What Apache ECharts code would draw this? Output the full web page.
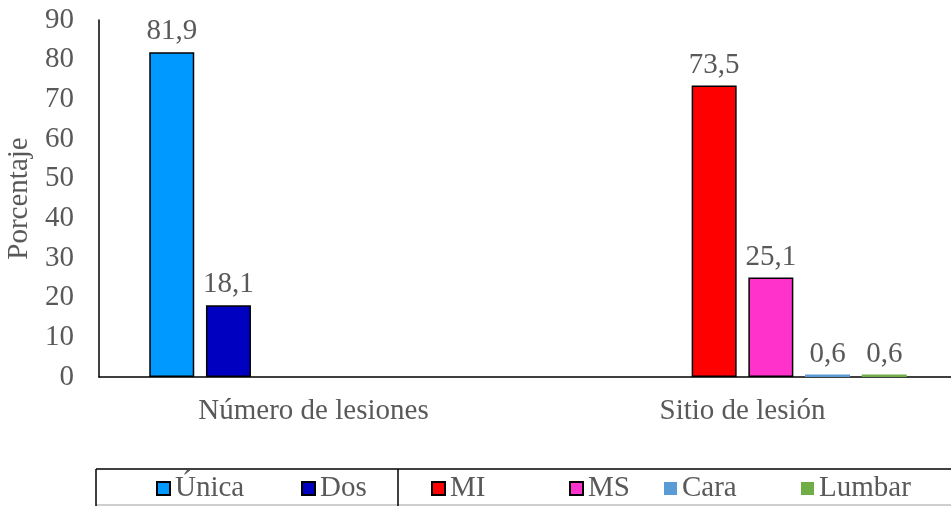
<!DOCTYPE html>
<html>
<head>
<meta charset="utf-8">
<script src="https://cdn.jsdelivr.net/npm/echarts@6/dist/echarts.min.js"></script>
<style>
  html, body { margin: 0; padding: 0; background: #fff; }
  #main { width: 951px; height: 506px; }
</style>
</head>
<body>
<div id="main"></div>
<script>
var categories = ['Número de lesiones', 'Sitio de lesión'];
var seriesNames = ['Única', 'Dos', 'MI', 'MS', 'Cara', 'Lumbar'];
var unica = [81.9, null];
var dos = [18.1, null];
var mi = [null, 73.5];
var ms = [null, 25.1];
var cara = [null, 0.6];
var lumbar = [null, 0.6];
var yTicks = [0, 10, 20, 30, 40, 50, 60, 70, 80, 90];

var colors = ['#0099FF', '#0000C0', '#FF0000', '#FF33CC', '#5B9BD5', '#70AD47'];
var bordered = [true, true, true, true, false, false];
var values = [unica, dos, mi, ms, cara, lumbar];
var legendLeft = [156, 301, 431, 569, 664, 801];

var FONT = 'Liberation Serif';
var TXT = '#595959';
var FS = 29;

var chart = echarts.init(document.getElementById('main'));

var series = seriesNames.map(function (name, i) {
    return {
        name: name,
        type: 'bar',
        data: values[i],
        barWidth: 45,
        barGap: '26%',
        itemStyle: {
            color: colors[i],
            borderColor: bordered[i] ? '#000' : colors[i],
            borderWidth: bordered[i] ? 1.5 : 0
        },
        label: {
            show: true,
            position: 'top',
            distance: 6,
            color: TXT,
            fontFamily: FONT,
            fontSize: FS,
            formatter: function (p) {
                return p.value == null ? '' : String(p.value).replace('.', ',');
            }
        }
    };
});

// one legend per item so each can sit where the reference puts it
var legends = seriesNames.map(function (name, i) {
    return {
        data: [name],
        left: legendLeft[i],
        top: 474,
        icon: 'rect',
        itemWidth: 13,
        itemHeight: 13,
        itemGap: 0,
        padding: 0,
        selectedMode: false,
        textStyle: { color: TXT, fontFamily: FONT, fontSize: FS, lineHeight: 28 }
    };
});

chart.setOption({
    animation: false,
    grid: { left: 99, width: 858, top: 20, bottom: 129, outerBoundsMode: 'none' },
    legend: legends,
    xAxis: {
        type: 'category',
        data: categories,
        axisLine: { lineStyle: { color: '#000', width: 1.5 } },
        axisTick: { show: false },
        axisLabel: { color: TXT, fontFamily: FONT, fontSize: FS, margin: 20 }
    },
    yAxis: {
        type: 'value',
        min: yTicks[0],
        max: yTicks[yTicks.length - 1],
        interval: 10,
        name: 'Porcentaje',
        nameLocation: 'middle',
        nameGap: 63,
        nameTextStyle: { color: TXT, fontFamily: FONT, fontSize: FS },
        axisLine: { show: true, lineStyle: { color: '#000', width: 1.5 } },
        axisTick: { show: false },
        splitLine: { show: false },
        axisLabel: { color: TXT, fontFamily: FONT, fontSize: FS, margin: 25 }
    },
    // legend table frame
    graphic: [
        { type: 'line', shape: { x1: 96, y1: 469, x2: 951, y2: 469 }, style: { stroke: '#000', lineWidth: 1.5 } },
        { type: 'line', shape: { x1: 96, y1: 505, x2: 951, y2: 505 }, style: { stroke: '#bfbfbf', lineWidth: 1.5 } },
        { type: 'line', shape: { x1: 96, y1: 469, x2: 96, y2: 506 }, style: { stroke: '#000', lineWidth: 1.5 } },
        { type: 'line', shape: { x1: 398, y1: 469, x2: 398, y2: 506 }, style: { stroke: '#000', lineWidth: 1.5 } }
    ],
    series: series
});
</script>
</body>
</html>
